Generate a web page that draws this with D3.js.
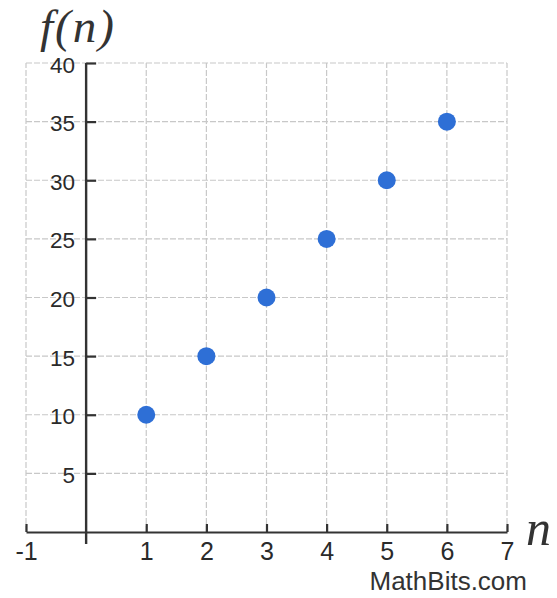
<!DOCTYPE html>
<html>
<head>
<meta charset="utf-8">
<script src="https://cdn.jsdelivr.net/npm/d3@7"></script>
<style>
  body { margin: 0; background: #fff; }
  svg { display: block; }
</style>
</head>
<body>
<svg id="mychart" width="557" height="598"></svg>
<script>
const width = 557
const height = 598

const nValues = [1, 2, 3, 4, 5, 6]
const fValues = [10, 15, 20, 25, 30, 35]
const xTicks = [-1, 1, 2, 3, 4, 5, 6, 7]
const xGrid = [-1, 0, 1, 2, 3, 4, 5, 6, 7]
const yTicks = [5, 10, 15, 20, 25, 30, 35, 40]

const x = d3.scaleLinear().domain([-1, 7]).range([26, 507])
const y = d3.scaleLinear().domain([0, 40]).range([532, 63])

const svg = d3.select('#mychart').attr('viewBox', [0, 0, width, height])

// dashed grid
const grid = svg.append("g")
    .attr("stroke", "#c8c8c8")
    .attr("stroke-width", 1.2)
    .attr("stroke-dasharray", "6,2")

grid.selectAll("line.v")
    .data(xGrid)
    .join("line")
    .attr("class", "v")
    .attr("x1", d => x(d)).attr("x2", d => x(d))
    .attr("y1", y(0)).attr("y2", y(40))

grid.selectAll("line.h")
    .data(yTicks)
    .join("line")
    .attr("class", "h")
    .attr("x1", x(-1)).attr("x2", x(7))
    .attr("y1", d => y(d)).attr("y2", d => y(d))

// x axis (plain hyphen for -1, like the original)
const xAxis = g => g
    .attr("transform", `translate(0,${y(0)})`)
    .call(d3.axisBottom(x).tickValues(xTicks).tickFormat(d => String(d))
        .tickSizeInner(-8).tickSizeOuter(0).tickPadding(10))
    .call(g => g.selectAll(".domain").attr("stroke", "#333").attr("stroke-width", 2.2))
    .call(g => g.selectAll(".tick line").attr("stroke", "#333").attr("stroke-width", 2.2))
    .call(g => g.selectAll(".tick text")
        .attr("fill", "#2a2a2a")
        .attr("font-family", "'Liberation Sans', Arial, sans-serif")
        .attr("font-size", 25))

// y axis
const yAxis = g => g
    .attr("transform", `translate(${x(0)},0)`)
    .call(d3.axisLeft(y).tickValues(yTicks).tickSizeInner(-10).tickSizeOuter(0).tickPadding(11))
    .call(g => g.select(".domain").remove())
    .call(g => g.selectAll(".tick line").attr("stroke", "#333").attr("stroke-width", 2.2))
    .call(g => g.selectAll(".tick text")
        .attr("fill", "#2a2a2a")
        .attr("dy", "0.4em")
        .attr("font-family", "'Liberation Sans', Arial, sans-serif")
        .attr("font-size", 22.5))
    .call(g => g.append("line")
        .attr("stroke", "#333")
        .attr("stroke-width", 2.4)
        .attr("y1", y(40)).attr("y2", y(0) + 12))

svg.append("g").call(xAxis)
svg.append("g").call(yAxis)

// points
svg.append("g")
    .attr("fill", "#2e6fd6")
    .selectAll("circle")
    .data(nValues)
    .join("circle")
    .attr("cx", d => x(d))
    .attr("cy", (d, i) => y(fValues[i]))
    .attr("r", 9)

// axis titles
svg.append("text")
    .attr("x", 40).attr("y", 42)
    .attr("font-family", "'Liberation Serif', 'Times New Roman', serif")
    .attr("font-style", "italic")
    .attr("font-size", 47)
    .attr("letter-spacing", 2)
    .attr("fill", "#333")
    .text("f(n)")

svg.append("text")
    .attr("x", 526).attr("y", 545)
    .attr("font-family", "'Liberation Serif', 'Times New Roman', serif")
    .attr("font-style", "italic")
    .attr("font-size", 50)
    .attr("fill", "#333")
    .text("n")

svg.append("text")
    .attr("x", 527).attr("y", 590)
    .attr("text-anchor", "end")
    .attr("font-family", "'Liberation Sans', Arial, sans-serif")
    .attr("font-size", 26)
    .attr("fill", "#333")
    .text("MathBits.com")
</script>
</body>
</html>
